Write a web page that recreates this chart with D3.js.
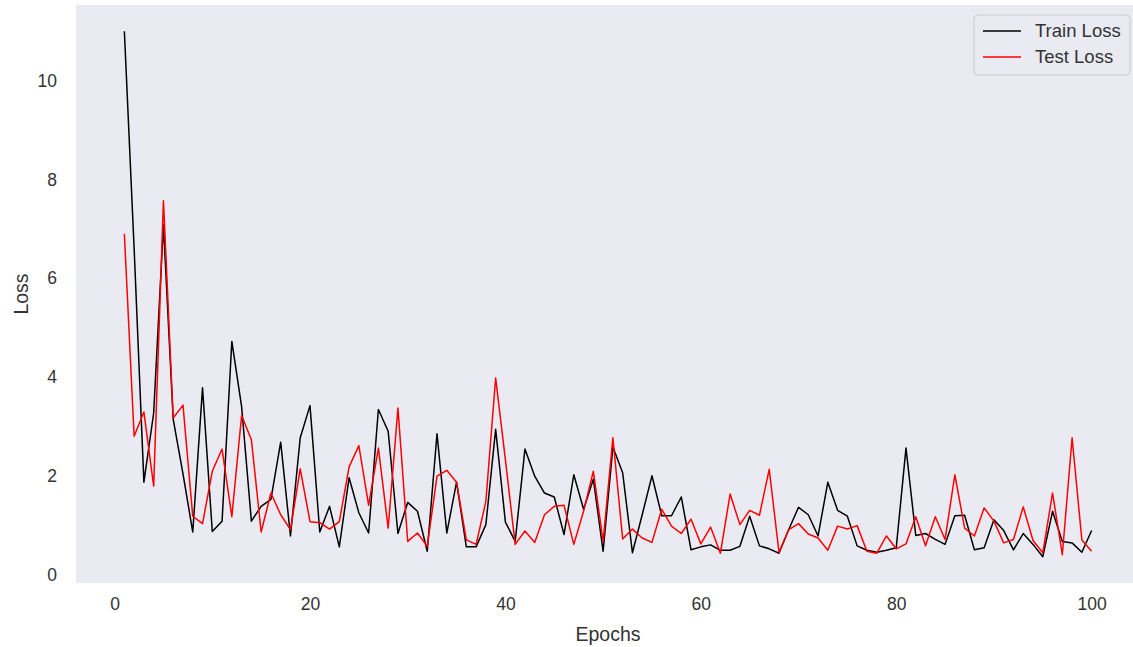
<!DOCTYPE html>
<html>
<head>
<meta charset="utf-8">
<script src="https://cdn.jsdelivr.net/npm/d3@7/dist/d3.min.js"></script>
<style>
  html, body { margin: 0; padding: 0; background: #ffffff; }
  svg { display: block; font-family: "Liberation Sans", Arial, sans-serif; }
</style>
</head>
<body>
<svg id="chart" width="1133" height="647"></svg>
<script>
// Per-epoch loss values
const epochs = d3.range(1, 101);
const trainLoss = [
  11.0, 6.6, 1.87, 3.27, 7.08, 3.14, 2.04, 0.86, 3.78, 0.87,
  1.08, 4.72, 3.40, 1.08, 1.38, 1.52, 2.68, 0.78, 2.77, 3.42,
  0.86, 1.38, 0.56, 1.96, 1.25, 0.84, 3.34, 2.90, 0.83, 1.46,
  1.28, 0.47, 2.85, 0.84, 1.87, 0.56, 0.56, 1.01, 2.94, 1.06,
  0.67, 2.54, 1.99, 1.65, 1.57, 0.81, 2.02, 1.32, 1.93, 0.47,
  2.58, 2.06, 0.44, 1.21, 2.00, 1.19, 1.19, 1.57, 0.50, 0.56,
  0.60, 0.49, 0.49, 0.57, 1.18, 0.58, 0.52, 0.43, 0.91, 1.36,
  1.21, 0.78, 1.87, 1.30, 1.18, 0.58, 0.49, 0.45, 0.49, 0.54,
  2.56, 0.79, 0.83, 0.71, 0.61, 1.19, 1.20, 0.50, 0.54, 1.11,
  0.89, 0.50, 0.83, 0.61, 0.36, 1.28, 0.67, 0.64, 0.45, 0.89
];
const testLoss = [
  6.90, 2.80, 3.29, 1.79, 7.57, 3.17, 3.43, 1.18, 1.03, 2.09,
  2.54, 1.17, 3.22, 2.73, 0.86, 1.65, 1.21, 0.91, 2.14, 1.07,
  1.05, 0.92, 1.07, 2.18, 2.61, 1.40, 2.56, 0.94, 3.37, 0.67,
  0.84, 0.57, 1.99, 2.11, 1.87, 0.70, 0.61, 1.48, 3.98, 2.32,
  0.61, 0.88, 0.65, 1.21, 1.38, 1.40, 0.61, 1.28, 2.09, 0.67,
  2.77, 0.72, 0.92, 0.74, 0.65, 1.32, 0.98, 0.83, 1.12, 0.62,
  0.96, 0.43, 1.63, 1.01, 1.30, 1.20, 2.13, 0.45, 0.91, 1.03,
  0.82, 0.74, 0.49, 0.98, 0.92, 0.99, 0.47, 0.43, 0.78, 0.52,
  0.62, 1.17, 0.58, 1.17, 0.71, 2.02, 0.94, 0.78, 1.35, 1.08,
  0.64, 0.71, 1.37, 0.69, 0.44, 1.65, 0.40, 2.77, 0.70, 0.47
];
const xTicks = [0, 20, 40, 60, 80, 100];
const yTicks = [0, 2, 4, 6, 8, 10];
const seriesNames = ["Train Loss", "Test Loss"];
const seriesColors = ["#000000", "#ff0000"];

const svg = d3.select("#chart");
const plot = { left: 76, right: 1140, top: 5, bottom: 583 };
const textColor = "#333333";

// Axis limits padded 5% around the data, as in the default margins
const xExt = d3.extent(epochs);
const xPad = (xExt[1] - xExt[0]) * 0.05;
const allVals = trainLoss.concat(testLoss);
const yExt = d3.extent(allVals);
const yPad = (yExt[1] - yExt[0]) * 0.05;

const x = d3.scaleLinear().domain([xExt[0] - xPad, xExt[1] + xPad]).range([plot.left, plot.right]);
const y = d3.scaleLinear().domain([yExt[0] - yPad, yExt[1] + yPad]).range([plot.bottom, plot.top]);

// Plot background
svg.append("rect")
  .attr("x", plot.left).attr("y", plot.top)
  .attr("width", plot.right - plot.left).attr("height", plot.bottom - plot.top)
  .attr("fill", "#eaeaf2");

// Axes (labels only, no tick marks or domain line)
const xAxis = d3.axisBottom(x).tickValues(xTicks).tickSize(0).tickPadding(15).tickFormat(d3.format("d"));
const gx = svg.append("g").attr("transform", `translate(0,${plot.bottom})`).call(xAxis);
gx.select(".domain").remove();
gx.selectAll("text").attr("font-size", 17.5).attr("fill", textColor)
  .attr("font-family", "Liberation Sans, Arial, sans-serif");

const yAxis = d3.axisLeft(y).tickValues(yTicks).tickSize(0).tickPadding(19).tickFormat(d3.format("d"));
const gy = svg.append("g").attr("transform", `translate(${plot.left},0)`).call(yAxis);
gy.select(".domain").remove();
gy.selectAll("text").attr("font-size", 17.5).attr("fill", textColor)
  .attr("font-family", "Liberation Sans, Arial, sans-serif");

// Axis titles
svg.append("text")
  .attr("x", (plot.left + 1140) / 2).attr("y", 641)
  .attr("text-anchor", "middle").attr("font-size", 19.5).attr("fill", textColor)
  .text("Epochs");
svg.append("text")
  .attr("transform", `translate(28,${(plot.top + plot.bottom) / 2}) rotate(-90)`)
  .attr("text-anchor", "middle").attr("font-size", 19.5).attr("fill", textColor)
  .text("Loss");

// Loss curves
const series = [trainLoss, testLoss];
const line = d3.line().x((d, i) => x(epochs[i])).y(d => y(d));
series.forEach((vals, k) => {
  svg.append("path")
    .datum(vals)
    .attr("fill", "none")
    .attr("stroke", seriesColors[k])
    .attr("stroke-width", 1.5)
    .attr("stroke-linejoin", "round")
    .attr("d", line);
});

// Legend
const lg = svg.append("g").attr("transform", "translate(974,15)");
lg.append("rect")
  .attr("width", 156).attr("height", 60).attr("rx", 4)
  .attr("fill", "#eaeaf2").attr("fill-opacity", 0.8)
  .attr("stroke", "#cccccc").attr("stroke-width", 1);
seriesNames.forEach((name, k) => {
  const yy = 16 + k * 26;
  lg.append("line")
    .attr("x1", 9).attr("x2", 47).attr("y1", yy).attr("y2", yy)
    .attr("stroke", seriesColors[k]).attr("stroke-width", 1.5);
  lg.append("text")
    .attr("x", 61).attr("y", yy).attr("dy", "0.35em")
    .attr("font-size", 18.5).attr("fill", textColor)
    .text(name);
});
</script>
</body>
</html>
